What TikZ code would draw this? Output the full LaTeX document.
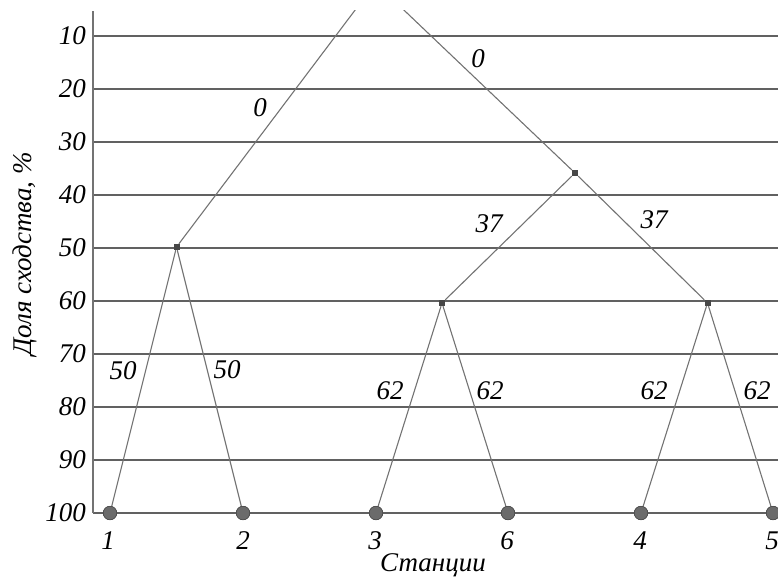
\documentclass[tikz,border=0pt]{standalone}
\usepackage{fontspec}
\setmainfont{Liberation Serif}
\begin{document}
\begin{tikzpicture}[x=1pt,y=-1pt,
  gridline/.style={draw=black!62,line width=1.8pt},
  axisline/.style={draw=black!55,line width=1.5pt},
  branch/.style={draw=black!55,line width=1.1pt},
  leaf/.style={circle,fill=black!58,draw=black!70,line width=0.6pt,minimum size=13.5pt,inner sep=0pt},
  joint/.style={rectangle,fill=black!72,minimum size=6pt,inner sep=0pt},
  txt/.style={font=\fontsize{27}{32}\selectfont\itshape,inner sep=0pt},
  tick/.style={txt,anchor=east}]
\useasboundingbox (0,0) rectangle (778,582);
% grid lines
\foreach \v/\y in {10/36,20/89,30/142,40/195,50/248,60/301,70/354,80/407,90/460,100/513}{
  \draw[gridline] (93,\y) -- (778,\y);
  \node[tick] (t\v) at (86,\y) {\v};
}
\draw[axisline] (93,11) -- (93,513);
% nodes
\node[leaf] (l1) at (110,513) {};
\node[leaf] (l2) at (243,513) {};
\node[leaf] (l3) at (376,513) {};
\node[leaf] (l6) at (508,513) {};
\node[leaf] (l4) at (641,513) {};
\node[leaf] (l5) at (773,513) {};
\node[joint] (n12) at (176.5,247) {};
\node[joint] (n36) at (442,303) {};
\node[joint] (n45) at (707.5,303) {};
\node[joint] (nr) at (575,173) {};
\coordinate (root) at (375.5,-17);
% branches
\begin{scope}
\clip (0,10) rectangle (778,582);
\draw[branch] (root) -- (n12);
\draw[branch] (root) -- (nr);
\end{scope}
\draw[branch] (n12) -- (l1);
\draw[branch] (n12) -- (l2);
\draw[branch] (nr) -- (n36);
\draw[branch] (nr) -- (n45);
\draw[branch] (n36) -- (l3);
\draw[branch] (n36) -- (l6);
\draw[branch] (n45) -- (l4);
\draw[branch] (n45) -- (l5);
\node[leaf] at (l1) {};
\node[leaf] at (l2) {};
\node[leaf] at (l3) {};
\node[leaf] at (l6) {};
\node[leaf] at (l4) {};
\node[leaf] at (l5) {};
% branch labels
\node[txt] (a1) at (260,108) {0};
\node[txt] (a2) at (478,59) {0};
\node[txt] (a3) at (489,224) {37};
\node[txt] (a4) at (654,220) {37};
\node[txt] (a5) at (123,371) {50};
\node[txt] (a6) at (227,370) {50};
\node[txt] (a7) at (390,391) {62};
\node[txt] (a8) at (490,391) {62};
\node[txt] (a9) at (654,391) {62};
\node[txt] (a10) at (757,391) {62};
% leaf labels
\node[txt] (b1) at (108,541) {1};
\node[txt] (b2) at (243,541) {2};
\node[txt] (b3) at (375,541) {3};
\node[txt] (b6) at (507,541) {6};
\node[txt] (b4) at (640,541) {4};
\node[txt] (b5) at (772,541) {5};
% axis titles
\node[txt] (xt) at (433,565) {Станции};
\node[txt,rotate=90] (yt) at (25,254) {Доля сходства, \%};
\end{tikzpicture}
\end{document}
